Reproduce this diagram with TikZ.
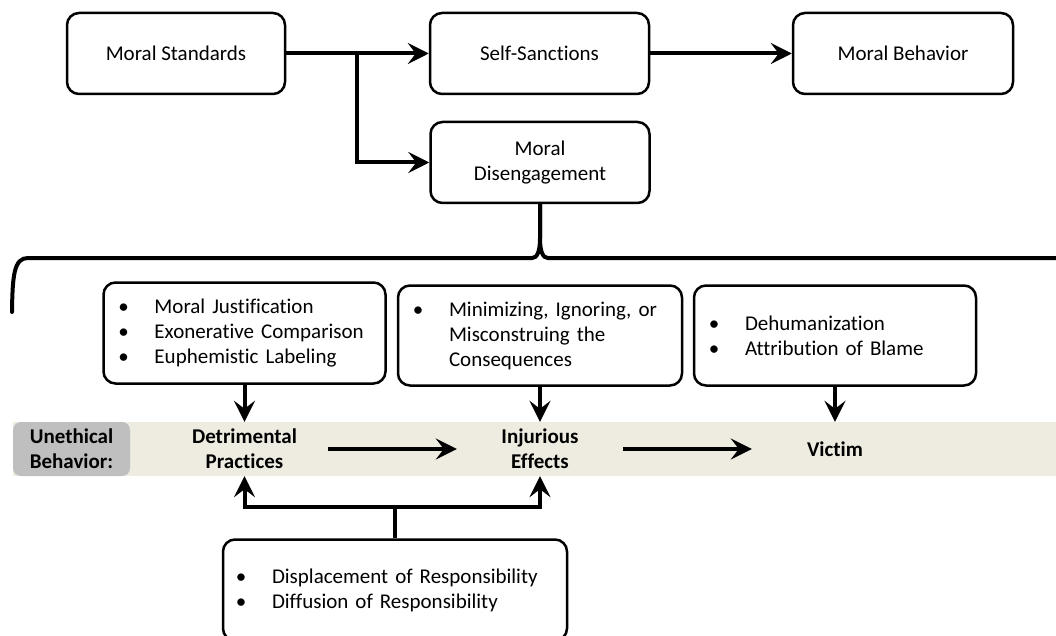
\documentclass[tikz,border=0pt]{standalone}
\usepackage{fontspec}
\setmainfont{Carlito}[Ligatures=NoCommon]
\usepackage{xcolor}
\usetikzlibrary{arrows.meta,positioning,calc}

\definecolor{bandbeige}{RGB}{238,236,225}
\definecolor{tabgray}{RGB}{191,191,191}

% bullet line and continuation line inside the list boxes
\newcommand{\bitem}[1]{\makebox[0pt]{\textbullet}\hspace{31pt}\mbox{#1}}
\newcommand{\bcont}[1]{\hspace*{31pt}\mbox{#1}}

\begin{document}
\begin{tikzpicture}[x=1pt, y=-1pt,
    txt/.style={font=\fontsize{21}{25}\selectfont},
    box/.style={txt, draw, line width=2.5pt, rounded corners=12pt, minimum height=81pt, align=center},
    listbox/.style={txt, draw, line width=2.5pt, rounded corners=12pt, minimum height=101pt, inner xsep=20pt, text width=#1, align=left},
    stage/.style={txt, font=\fontsize{21}{25}\selectfont\bfseries, align=center, minimum width=166pt, inner sep=0pt},
    conn/.style={line width=4pt, -{Stealth[length=21pt,width=21pt,inset=8pt]}},
    brace/.style={line width=4pt, line cap=round}]
    \useasboundingbox (0,0) rectangle (1056,636);

    % Top row
    \node (stand) at (176,53.5) [box, minimum width=218pt] {Moral Standards};
    \node (sanct) at (539.5,53.5) [box, minimum width=219pt] {Self-Sanctions};
    \node (behav) at (903,53.5) [box, minimum width=220pt] {Moral Behavior};
    \node (diseng) at (540,162.5) [box, minimum width=219pt] {Moral\\Disengagement};

    \coordinate (split) at (357,53.5);
    \draw [conn] (stand.east) -- (sanct.west);
    \draw [conn] (split) |- (diseng.west);
    \draw [conn] (sanct.east) -- (behav.west);

    % Brace under disengagement
    \coordinate (braceL) at (12,312);
    \coordinate (braceR) at (1062,258);
    \draw [brace] (braceL) .. controls (12.5,275) and (14,258) .. (28,258) -- (532,258)
        .. controls (537,258) and (540,252) .. (540,238) -- (diseng.south);
    \draw [brace] (diseng.south) -- (540,238) .. controls (540,252) and (543,258) .. (548,258) -- (braceR);

    % Mechanism boxes
    \node (justif) at (244.5,333) [listbox=242pt] {\bitem{Moral Justification}\\ \bitem{Exonerative Comparison}\\ \bitem{Euphemistic Labeling}};
    \node (minim) at (540,335.5) [listbox=244pt, minimum height=100pt] {\bitem{Minimizing, Ignoring, or}\\ \bcont{Misconstruing the}\\ \bcont{Consequences}};
    \node (dehum) at (835,335.5) [listbox=242pt, minimum height=100pt] {\bitem{Dehumanization}\\ \bitem{Attribution of Blame}};

    % Unethical behavior band
    \node (band) at (534.5,449) [fill=bandbeige, minimum width=1043pt, minimum height=54pt, inner sep=0pt] {};
    \node (uneth) at (71.5,449) [stage, fill=tabgray, rounded corners=8pt, minimum width=117pt, minimum height=54pt] {Unethical\\Behavior:};
    \node (detr) at (244.5,449) [stage] {Detrimental\\Practices};
    \node (injur) at (540,449) [stage] {Injurious\\Effects};
    \node (victim) at (835,449) [stage] {Victim};

    \draw [conn] (detr.east) -- (injur.west);
    \draw [conn] (injur.east) -- (victim.west);
    \draw [conn] (justif.south) -- (justif.south |- band.north);
    \draw [conn] (minim.south) -- (minim.south |- band.north);
    \draw [conn] (dehum.south) -- (dehum.south |- band.north);

    % Responsibility box
    \node (displ) at (395,590) [listbox=308pt, inner xsep=18pt] {\bitem{Displacement of Responsibility}\\ \bitem{Diffusion of Responsibility}};
    \coordinate (fork) at (395,507);
    \draw [line width=4pt] (displ.north) -- (fork);
    \draw [conn] (fork) -| (detr |- band.south);
    \draw [conn] (fork) -| (injur |- band.south);
\end{tikzpicture}
\end{document}
